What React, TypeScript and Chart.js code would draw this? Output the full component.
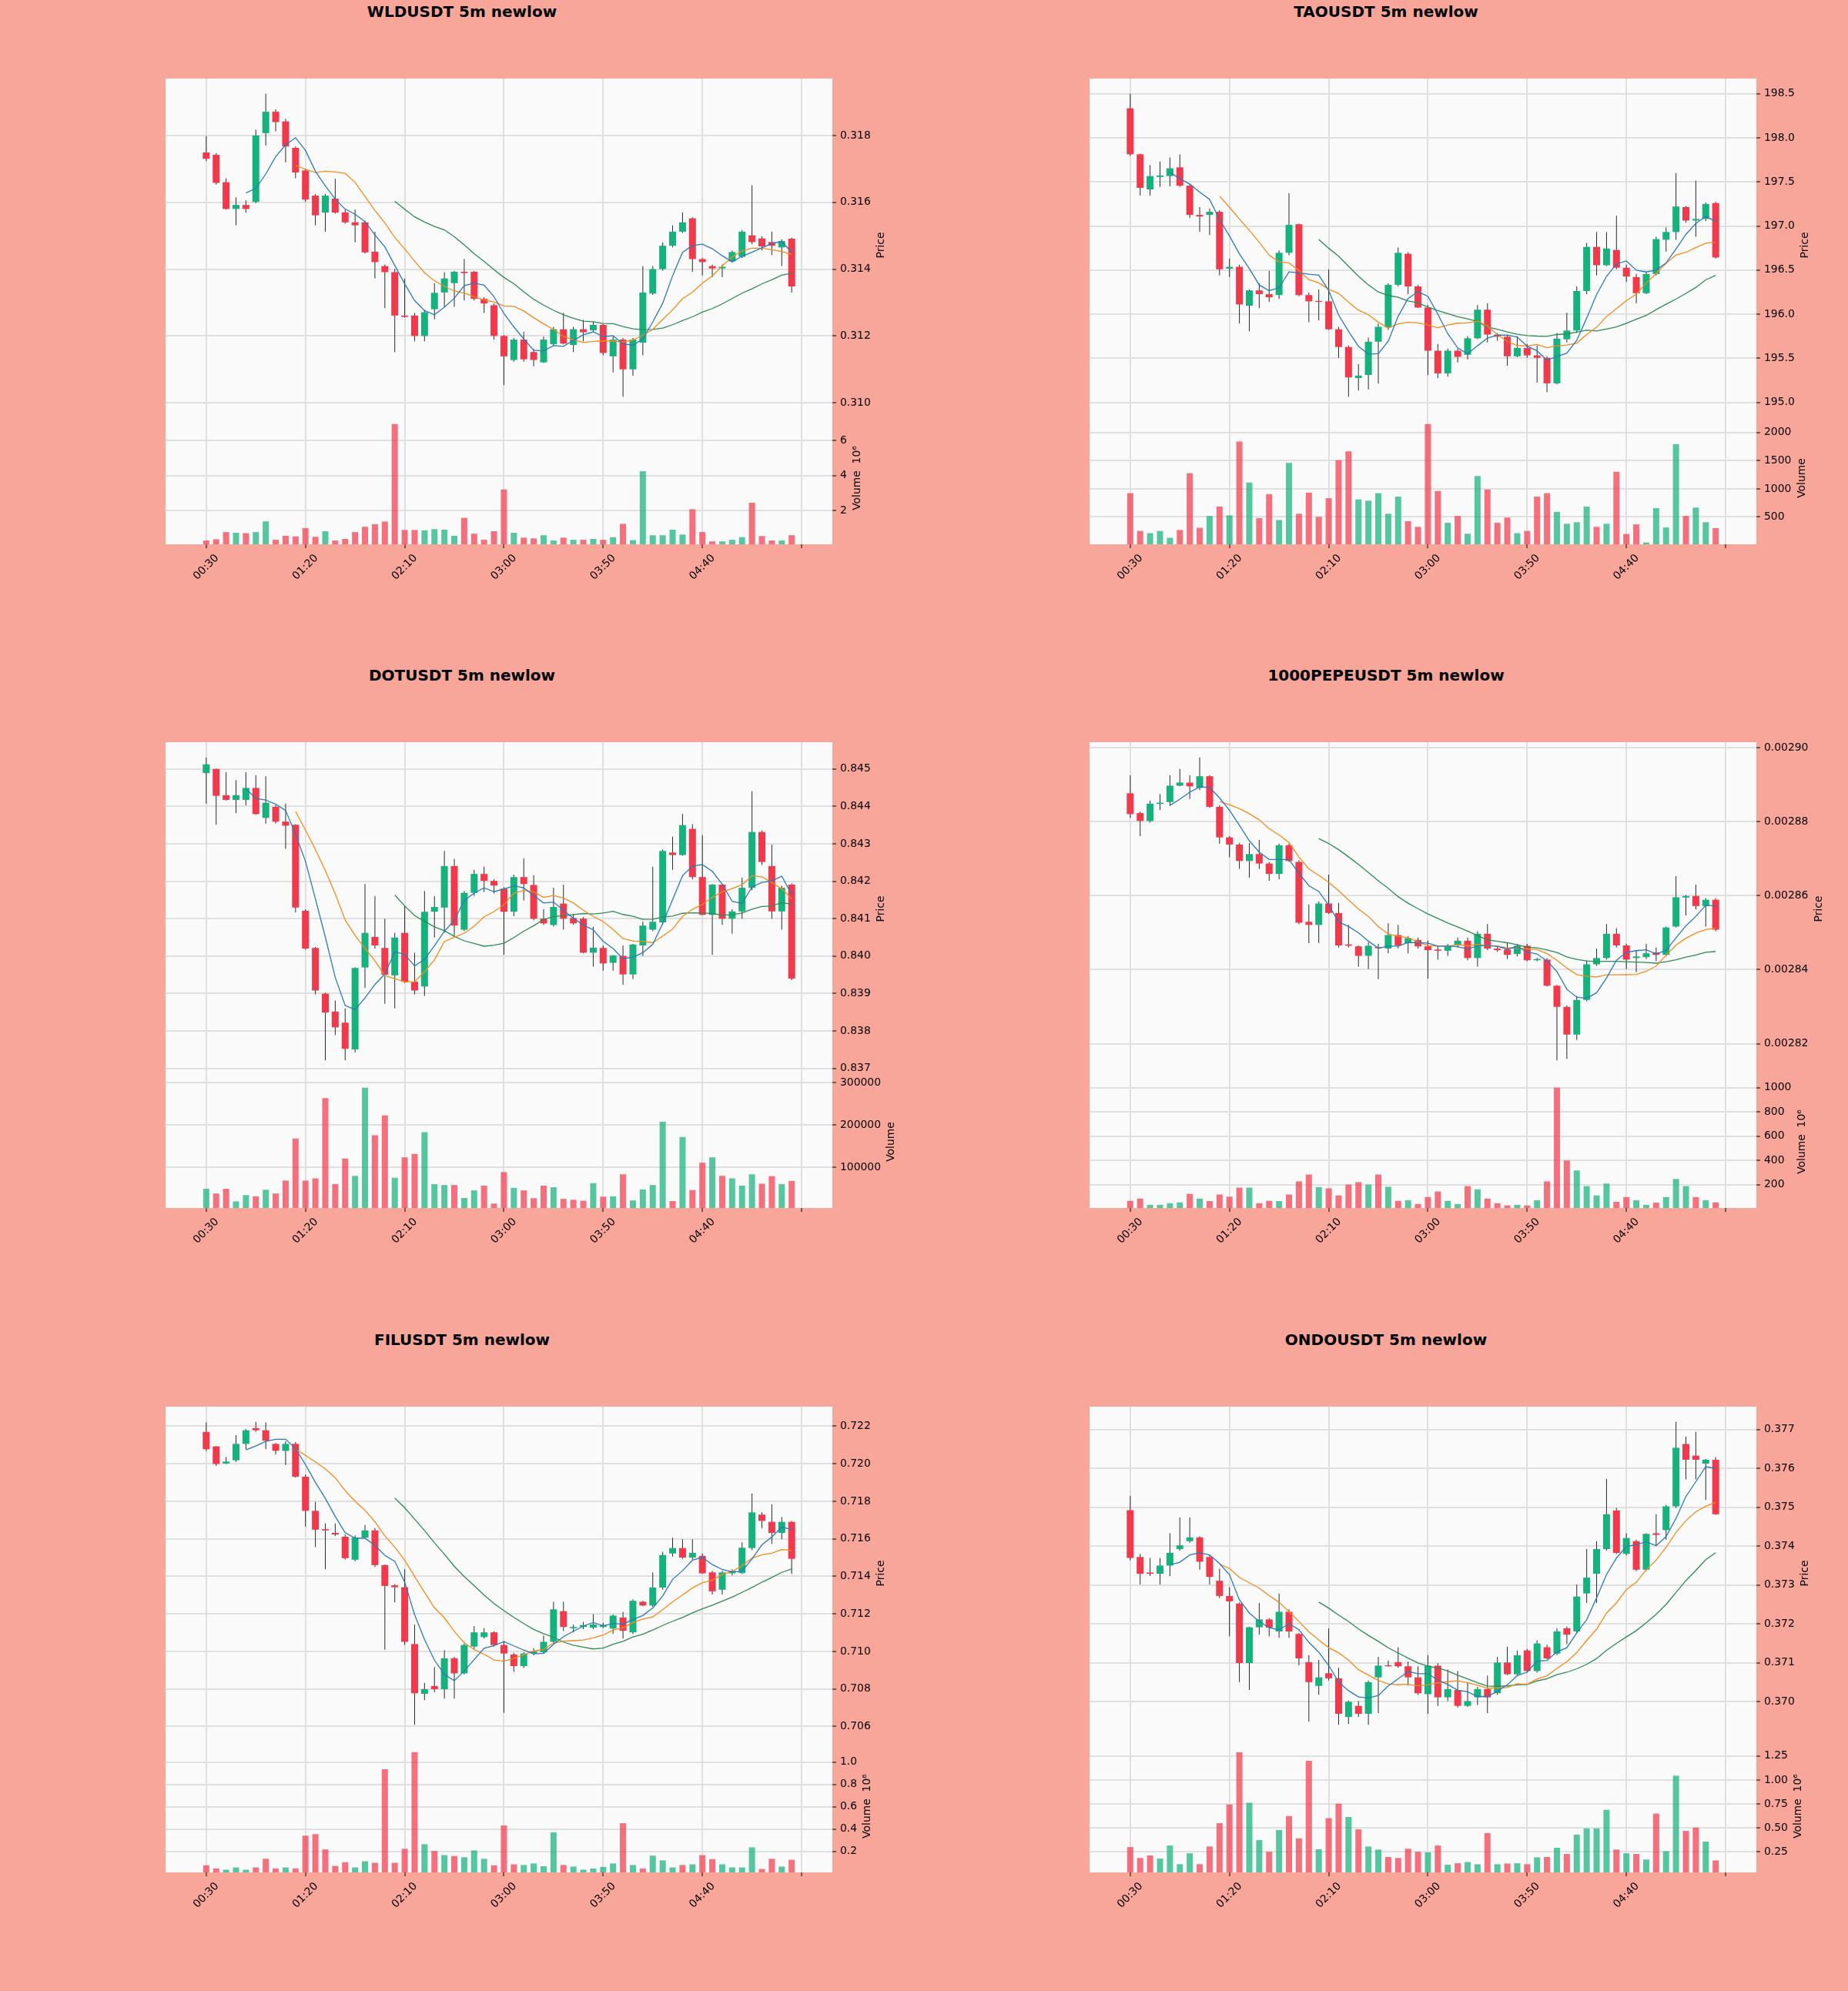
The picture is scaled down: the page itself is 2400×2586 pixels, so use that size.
import React, { useEffect, useRef } from "react";
import { Chart, registerables } from "chart.js";

Chart.register(...registerables);

// 60 five-minute candles, 00:30 .. 05:25 ; ticks every 10 candles
const xTickIdx = [0, 10, 20, 30, 40, 50, 60];
const xTickLabels = ["00:30", "01:20", "02:10", "03:00", "03:50", "04:40", ""];

// ---------- WLDUSDT  [open, high, low, close] ----------
const wldOhlc = [
  [0.31749, 0.31798, 0.31723, 0.3173], [0.31742, 0.31747, 0.31653, 0.31658], [0.3166, 0.31672, 0.31578, 0.3158],
  [0.3158, 0.31615, 0.31531, 0.31592], [0.31592, 0.31606, 0.31569, 0.3158], [0.31601, 0.31817, 0.31597, 0.318],
  [0.31807, 0.31925, 0.3177, 0.31871], [0.31871, 0.31878, 0.31812, 0.3184], [0.31842, 0.3185, 0.3172, 0.31767],
  [0.31763, 0.31767, 0.31672, 0.31689], [0.31695, 0.317, 0.31601, 0.31608], [0.3162, 0.31625, 0.31531, 0.31561],
  [0.31569, 0.31625, 0.31512, 0.3162], [0.31611, 0.3167, 0.31566, 0.31569], [0.3157, 0.31578, 0.31536, 0.3154],
  [0.3154, 0.31578, 0.3148, 0.31531], [0.3154, 0.31545, 0.31447, 0.3145], [0.31452, 0.31512, 0.31372, 0.31421],
  [0.31409, 0.31414, 0.31283, 0.31391], [0.31391, 0.314, 0.31152, 0.31261], [0.31261, 0.31372, 0.31255, 0.31257],
  [0.31261, 0.31269, 0.31184, 0.312], [0.312, 0.31278, 0.31184, 0.31271], [0.3128, 0.31358, 0.3125, 0.31329],
  [0.3133, 0.31391, 0.31287, 0.31372], [0.31358, 0.31395, 0.31287, 0.31392], [0.31392, 0.3143, 0.31306, 0.31388],
  [0.31392, 0.31395, 0.31306, 0.31311], [0.31311, 0.31316, 0.31269, 0.31297], [0.31292, 0.31297, 0.31189, 0.312],
  [0.312, 0.31203, 0.31053, 0.31139], [0.31128, 0.31194, 0.31123, 0.31189], [0.31189, 0.31212, 0.31123, 0.3113],
  [0.31152, 0.31161, 0.31109, 0.31128], [0.31121, 0.31198, 0.31119, 0.31189], [0.31175, 0.31227, 0.3117, 0.3122],
  [0.3122, 0.31269, 0.31175, 0.31177], [0.31173, 0.31227, 0.31152, 0.3122], [0.3122, 0.31248, 0.31184, 0.31211],
  [0.31217, 0.31242, 0.31212, 0.31233], [0.31233, 0.31236, 0.31142, 0.31149], [0.31139, 0.31198, 0.31091, 0.31189],
  [0.31189, 0.31194, 0.31018, 0.311], [0.311, 0.31194, 0.31081, 0.31189], [0.3118, 0.31409, 0.31142, 0.3133],
  [0.31327, 0.31409, 0.31323, 0.314], [0.314, 0.3148, 0.31395, 0.3147], [0.3147, 0.31531, 0.31465, 0.31512],
  [0.31512, 0.3157, 0.31508, 0.3154], [0.31552, 0.31555, 0.31392, 0.3143], [0.3143, 0.31433, 0.31381, 0.31421],
  [0.31409, 0.31414, 0.31376, 0.31402], [0.31402, 0.31414, 0.31376, 0.31407], [0.31423, 0.31456, 0.31419, 0.31451],
  [0.31437, 0.31517, 0.31433, 0.31512], [0.31501, 0.31651, 0.31475, 0.31481], [0.31492, 0.31498, 0.31456, 0.31468],
  [0.31481, 0.31512, 0.31442, 0.3147], [0.31465, 0.31489, 0.31409, 0.31484], [0.31491, 0.31494, 0.3133, 0.31348],
];
// volume in units of 10^6
const wldVolume = [
  0.29, 0.36, 0.77, 0.73, 0.71, 0.77, 1.38, 0.33, 0.56, 0.52, 1.0, 0.5, 0.82, 0.29, 0.38, 0.77, 1.07, 1.22, 1.37, 6.93,
  0.89, 0.89, 0.87, 0.94, 0.91, 0.56, 1.58, 0.68, 0.33, 0.82, 3.2, 0.73, 0.45, 0.41, 0.59, 0.29, 0.45, 0.33, 0.33, 0.38,
  0.33, 0.48, 1.24, 0.31, 4.24, 0.59, 0.59, 0.91, 0.63, 2.07, 0.77, 0.24, 0.24, 0.33, 0.48, 2.44, 0.54, 0.29, 0.29, 0.59,
];
const wldPriceTicks = [0.31, 0.312, 0.314, 0.316, 0.318];
const wldVolumeTicks = [2, 4, 6];

// ---------- TAOUSDT ----------
const taoOhlc = [
  [198.334, 198.5, 197.795, 197.813], [197.813, 197.82, 197.344, 197.432], [197.415, 197.69, 197.344, 197.566],
  [197.556, 197.732, 197.443, 197.573], [197.566, 197.778, 197.45, 197.654], [197.665, 197.813, 197.443, 197.457],
  [197.457, 197.478, 197.091, 197.126], [197.126, 197.214, 196.932, 197.108], [197.126, 197.196, 196.897, 197.161],
  [197.161, 197.179, 196.439, 196.509], [196.516, 196.632, 196.421, 196.537], [196.537, 196.562, 195.893, 196.111],
  [196.097, 196.28, 195.804, 196.27], [196.27, 196.351, 196.069, 196.227], [196.227, 196.492, 196.139, 196.192],
  [196.217, 196.721, 196.174, 196.696], [196.696, 197.372, 196.668, 197.013], [197.02, 197.027, 196.203, 196.217],
  [196.217, 196.245, 195.91, 196.146], [196.15, 196.28, 195.928, 196.139], [196.146, 196.509, 195.822, 195.829],
  [195.829, 195.857, 195.505, 195.628], [195.628, 195.646, 195.064, 195.283], [195.276, 195.434, 195.135, 195.304],
  [195.311, 195.734, 195.146, 195.688], [195.688, 195.893, 195.212, 195.857], [195.85, 196.351, 195.822, 196.333],
  [196.333, 196.756, 196.315, 196.696], [196.685, 196.703, 196.227, 196.315], [196.315, 196.333, 196.069, 196.076],
  [196.076, 196.104, 195.311, 195.586], [195.586, 195.663, 195.276, 195.329], [195.329, 195.611, 195.294, 195.586],
  [195.586, 195.611, 195.452, 195.516], [195.54, 195.752, 195.487, 195.727], [195.727, 196.104, 195.716, 196.051],
  [196.051, 196.122, 195.681, 195.769], [195.769, 195.787, 195.699, 195.745], [195.745, 195.759, 195.417, 195.523],
  [195.523, 195.752, 195.512, 195.618], [195.618, 195.663, 195.505, 195.533], [195.533, 195.646, 195.223, 195.505],
  [195.505, 195.523, 195.117, 195.216], [195.216, 195.787, 195.205, 195.723], [195.716, 196.016, 195.681, 195.815],
  [195.815, 196.315, 195.787, 196.263], [196.263, 196.809, 196.227, 196.763], [196.763, 196.932, 196.439, 196.555],
  [196.555, 196.932, 196.544, 196.745], [196.728, 197.115, 196.509, 196.527], [196.527, 196.562, 196.368, 196.428],
  [196.421, 196.456, 196.122, 196.238], [196.238, 196.474, 196.227, 196.456], [196.456, 196.879, 196.439, 196.851],
  [196.844, 196.985, 196.71, 196.932], [196.932, 197.601, 196.844, 197.221], [197.214, 197.224, 197.038, 197.062],
  [197.062, 197.513, 196.879, 197.08], [197.08, 197.267, 197.055, 197.249], [197.26, 197.274, 196.632, 196.643],
];
const taoVolume = [
  922, 252, 213, 252, 130, 269, 1276, 307, 518, 684, 529, 1841, 1110, 479, 905, 446, 1459, 556, 933, 501,
  833, 1509, 1664, 811, 789, 922, 556, 861, 424, 324, 2151, 961, 396, 518, 202, 1226, 988, 396, 490, 213,
  252, 861, 922, 590, 379, 407, 684, 324, 379, 1304, 197, 368, 47, 656, 313, 1791, 518, 667, 407, 302,
];
const taoPriceTicks = [195.0, 195.5, 196.0, 196.5, 197.0, 197.5, 198.0, 198.5];
const taoVolumeTicks = [500, 1000, 1500, 2000];

// ---------- DOTUSDT ----------
const dotOhlc = [
  [0.844891, 0.845312, 0.844074, 0.845126], [0.845, 0.84501, 0.843509, 0.844284], [0.844301, 0.844916, 0.84416, 0.844175],
  [0.844175, 0.844705, 0.843821, 0.844301], [0.844175, 0.844916, 0.844032, 0.844495], [0.844495, 0.844832, 0.843779, 0.843796],
  [0.843695, 0.844806, 0.843543, 0.844099], [0.843989, 0.844032, 0.843543, 0.843594], [0.843594, 0.844074, 0.842869, 0.843484],
  [0.843509, 0.843526, 0.841168, 0.841295], [0.841211, 0.841253, 0.840175, 0.8402], [0.840217, 0.840242, 0.838979, 0.83908],
  [0.838996, 0.839021, 0.837211, 0.838491], [0.838516, 0.838811, 0.837884, 0.838095], [0.838221, 0.8386, 0.837211, 0.837522],
  [0.837505, 0.839695, 0.837421, 0.83968], [0.839695, 0.841926, 0.839147, 0.840621], [0.840512, 0.841606, 0.8402, 0.840284],
  [0.840217, 0.841, 0.838726, 0.839501], [0.839484, 0.840621, 0.8386, 0.840495], [0.840621, 0.841337, 0.839274, 0.839316],
  [0.839316, 0.840091, 0.838979, 0.83908], [0.839189, 0.841741, 0.838937, 0.841185], [0.841185, 0.841606, 0.840495, 0.841312],
  [0.841295, 0.842811, 0.840621, 0.842406], [0.842406, 0.8426, 0.840495, 0.840815], [0.840705, 0.841741, 0.840663, 0.841691],
  [0.841691, 0.842305, 0.841606, 0.842196], [0.842196, 0.842389, 0.841716, 0.842011], [0.842011, 0.842053, 0.841674, 0.841884],
  [0.8418, 0.841842, 0.840032, 0.841185], [0.841185, 0.842179, 0.841067, 0.842112], [0.842112, 0.842617, 0.841488, 0.841926],
  [0.841901, 0.842162, 0.840958, 0.841], [0.841, 0.841253, 0.840832, 0.840874], [0.840832, 0.841825, 0.840789, 0.841312],
  [0.841404, 0.841909, 0.840705, 0.841], [0.841017, 0.841126, 0.840832, 0.840874], [0.841, 0.841042, 0.840074, 0.840091],
  [0.840091, 0.840789, 0.83972, 0.840225], [0.840217, 0.840284, 0.839611, 0.839804], [0.839821, 0.840032, 0.839611, 0.840015],
  [0.840006, 0.840284, 0.839232, 0.839509], [0.839509, 0.840326, 0.839383, 0.840309], [0.840284, 0.840916, 0.840006, 0.840815],
  [0.840705, 0.842389, 0.840663, 0.840916], [0.840899, 0.842853, 0.840832, 0.842811], [0.842768, 0.843189, 0.842305, 0.842701],
  [0.842701, 0.843796, 0.842684, 0.843501], [0.8434, 0.843526, 0.842053, 0.842112], [0.842112, 0.843232, 0.84109, 0.841101],
  [0.841101, 0.841926, 0.840032, 0.841909], [0.841909, 0.841926, 0.840832, 0.841], [0.841, 0.841253, 0.840596, 0.841194],
  [0.841194, 0.842095, 0.841, 0.841825], [0.841825, 0.844411, 0.841758, 0.843316], [0.843316, 0.843358, 0.842432, 0.842516],
  [0.842406, 0.842979, 0.841, 0.841194], [0.841194, 0.841884, 0.840705, 0.841825], [0.841909, 0.841943, 0.839358, 0.8394],
];
const dotVolume = [
  49600, 38500, 49600, 20000, 34800, 31900, 47400, 38500, 68900, 168100, 68900, 74100, 263000, 60700, 120700,
  80000, 287400, 175600, 222200, 75600, 123700, 131800, 183000, 60700, 58500, 58500, 28100, 45900, 57000, 14800,
  88900, 51800, 45900, 27400, 57000, 53300, 25900, 23700, 21500, 63000, 31100, 31900, 83700, 22200, 48100,
  58500, 207400, 20700, 171800, 46700, 111100, 123700, 80000, 74100, 57000, 83700, 61500, 79300, 60700, 68100,
];
const dotPriceTicks = [0.837, 0.838, 0.839, 0.84, 0.841, 0.842, 0.843, 0.844, 0.845];
const dotVolumeTicks = [100000, 200000, 300000];

// ---------- 1000PEPEUSDT ----------
const pepeOhlc = [
  [0.00288766, 0.00289251, 0.00288102, 0.00288204], [0.0028823, 0.00288272, 0.00287609, 0.00288017],
  [0.00288017, 0.0028857, 0.00287974, 0.00288485], [0.00288477, 0.0028874, 0.00288315, 0.00288511],
  [0.00288528, 0.00289251, 0.00288426, 0.0028897], [0.0028897, 0.00289421, 0.00288953, 0.00289055],
  [0.00289055, 0.00289251, 0.00288613, 0.00288953], [0.00288911, 0.00289736, 0.00288851, 0.00289226],
  [0.00289226, 0.00289251, 0.00288374, 0.002884], [0.002884, 0.00288443, 0.00287404, 0.00287574],
  [0.00287574, 0.00287609, 0.00287038, 0.00287379], [0.00287379, 0.00287421, 0.00286723, 0.00286936],
  [0.00286936, 0.00287421, 0.00286485, 0.00287123], [0.00287123, 0.00287506, 0.00286723, 0.00286868],
  [0.00286868, 0.00286911, 0.002864, 0.00286587], [0.00286587, 0.00287404, 0.00286443, 0.00287362],
  [0.00287362, 0.00287404, 0.00286911, 0.00286936], [0.00286911, 0.00286953, 0.00285226, 0.00285268],
  [0.00285294, 0.00285762, 0.00284715, 0.00285209], [0.00285209, 0.00285847, 0.00284723, 0.00285787],
  [0.00285787, 0.0028657, 0.00285506, 0.00285532], [0.00285532, 0.00285804, 0.00284596, 0.00284655],
  [0.00284681, 0.00285209, 0.00284596, 0.00284647], [0.0028463, 0.00284655, 0.00284085, 0.00284374],
  [0.00284374, 0.0028474, 0.00284017, 0.00284647], [0.00284613, 0.00284698, 0.00283745, 0.00284579],
  [0.0028457, 0.00285251, 0.00284443, 0.00284936], [0.00284936, 0.00285209, 0.0028457, 0.00284655],
  [0.00284715, 0.00284911, 0.00284443, 0.00284851], [0.002848, 0.00284868, 0.0028457, 0.0028463],
  [0.0028463, 0.00284783, 0.00283762, 0.00284528], [0.00284545, 0.00284655, 0.00284272, 0.00284511],
  [0.00284511, 0.00284698, 0.00284374, 0.00284655], [0.00284655, 0.00284868, 0.00284596, 0.00284783],
  [0.00284783, 0.00284868, 0.00284255, 0.00284315], [0.00284315, 0.00285038, 0.00284085, 0.0028497],
  [0.0028497, 0.00285234, 0.00284528, 0.0028457], [0.0028457, 0.00284655, 0.00284485, 0.00284528],
  [0.00284545, 0.0028474, 0.00284289, 0.002844], [0.00284426, 0.00284698, 0.00284357, 0.00284647],
  [0.00284647, 0.00284698, 0.0028423, 0.00284255], [0.00284255, 0.00284315, 0.0028423, 0.00284289],
  [0.00284272, 0.00284315, 0.00283549, 0.00283566], [0.00283566, 0.00283591, 0.00281549, 0.00282996],
  [0.00282996, 0.00283038, 0.00281591, 0.00282247], [0.00282247, 0.00283294, 0.00282102, 0.00283183],
  [0.00283183, 0.00284255, 0.00283149, 0.00284145], [0.00284145, 0.0028457, 0.00284102, 0.00284315],
  [0.00284315, 0.00285234, 0.00284272, 0.0028497], [0.0028497, 0.00285123, 0.00284596, 0.00284655],
  [0.00284655, 0.00284698, 0.00284017, 0.00284272], [0.00284315, 0.00284528, 0.00283932, 0.00284357],
  [0.0028434, 0.00284698, 0.00284289, 0.00284443], [0.00284468, 0.00284596, 0.0028423, 0.002844],
  [0.002844, 0.00285166, 0.00284357, 0.0028514], [0.00285166, 0.00286528, 0.0028514, 0.00285957],
  [0.00285949, 0.00286017, 0.00285464, 0.00285991], [0.00285991, 0.00286298, 0.00285634, 0.00285719],
  [0.00285719, 0.00285932, 0.00285166, 0.00285889], [0.00285889, 0.00285932, 0.00285038, 0.00285081],
];
// volume in units of 10^6
const pepeVolume = [
  68, 86, 35, 35, 48, 55, 125, 86, 66, 120, 102, 176, 176, 48, 68, 66, 120, 228, 284, 181,
  171, 112, 202, 222, 202, 284, 184, 68, 73, 42, 99, 145, 68, 42, 189, 163, 86, 48, 30, 35,
  30, 73, 228, 999, 400, 318, 189, 112, 210, 60, 99, 73, 35, 53, 99, 248, 189, 99, 73, 55,
];
const pepePriceTicks = [0.00282, 0.00284, 0.00286, 0.00288, 0.0029];
const pepeVolumeTicks = [200, 400, 600, 800, 1000];

// ---------- FILUSDT ----------
const filOhlc = [
  [0.721697, 0.722202, 0.720688, 0.720772], [0.720923, 0.72094, 0.719881, 0.719982], [0.720015, 0.720352, 0.719982, 0.720116],
  [0.720183, 0.721529, 0.720099, 0.721058], [0.721058, 0.721865, 0.720772, 0.721781], [0.721899, 0.722235, 0.721697, 0.721781],
  [0.721781, 0.722202, 0.720772, 0.721226], [0.721058, 0.721108, 0.720486, 0.720688], [0.720688, 0.721193, 0.719931, 0.721058],
  [0.721058, 0.721159, 0.719258, 0.719309], [0.719309, 0.719426, 0.716651, 0.717492], [0.717492, 0.717963, 0.715558, 0.716483],
  [0.716516, 0.716819, 0.71438, 0.716449], [0.716315, 0.716819, 0.716146, 0.71623], [0.716113, 0.71623, 0.714885, 0.714969],
  [0.714885, 0.71618, 0.714801, 0.716062], [0.716062, 0.716735, 0.716012, 0.716449], [0.716449, 0.716567, 0.714498, 0.714599],
  [0.714599, 0.714632, 0.710091, 0.713489], [0.713522, 0.71359, 0.712614, 0.713421], [0.713421, 0.71438, 0.710343, 0.710511],
  [0.710394, 0.711436, 0.706088, 0.70777], [0.707736, 0.708325, 0.7074, 0.707988], [0.708157, 0.709166, 0.70782, 0.707988],
  [0.707988, 0.710057, 0.707484, 0.709637], [0.709637, 0.709721, 0.707484, 0.70883], [0.70883, 0.710427, 0.708779, 0.710343],
  [0.710259, 0.711352, 0.710091, 0.711016], [0.710764, 0.711235, 0.71068, 0.711016], [0.711016, 0.711067, 0.710259, 0.710343],
  [0.710343, 0.710562, 0.706727, 0.709889], [0.709839, 0.709923, 0.708914, 0.709216], [0.709216, 0.709956, 0.709115, 0.709889],
  [0.709889, 0.710175, 0.709788, 0.710007], [0.709956, 0.710848, 0.709889, 0.710511], [0.710511, 0.712648, 0.710427, 0.712244],
  [0.712143, 0.712648, 0.7111, 0.711302], [0.711235, 0.711436, 0.711016, 0.711302], [0.711302, 0.711571, 0.711184, 0.711403],
  [0.711268, 0.711992, 0.711184, 0.711436], [0.711302, 0.711521, 0.711235, 0.711403], [0.711218, 0.711975, 0.710932, 0.711907],
  [0.711806, 0.712109, 0.71068, 0.7111], [0.711016, 0.712782, 0.710932, 0.712698], [0.712648, 0.712698, 0.712412, 0.712446],
  [0.712446, 0.714212, 0.712362, 0.713405], [0.713405, 0.715305, 0.713287, 0.715137], [0.715221, 0.716062, 0.715053, 0.715507],
  [0.715507, 0.715978, 0.714935, 0.715003], [0.715003, 0.715978, 0.714885, 0.715255], [0.715087, 0.715221, 0.714128, 0.714161],
  [0.714212, 0.714296, 0.713034, 0.713203], [0.713287, 0.714296, 0.713034, 0.714212], [0.714161, 0.71438, 0.714044, 0.714296],
  [0.714178, 0.71581, 0.714128, 0.715524], [0.715507, 0.718417, 0.715389, 0.717408], [0.71729, 0.717408, 0.716567, 0.716954],
  [0.716903, 0.717828, 0.715726, 0.716315], [0.716315, 0.717156, 0.715978, 0.716903], [0.716903, 0.716954, 0.714128, 0.714935],
];
// volume in units of 10^6
const filVolume = [
  0.074, 0.046, 0.035, 0.055, 0.035, 0.055, 0.133, 0.046, 0.055, 0.046, 0.34, 0.354, 0.217, 0.069, 0.102,
  0.055, 0.11, 0.097, 0.936, 0.097, 0.222, 1.09, 0.264, 0.203, 0.166, 0.158, 0.147, 0.208, 0.133, 0.074,
  0.432, 0.083, 0.077, 0.091, 0.066, 0.371, 0.077, 0.063, 0.035, 0.046, 0.06, 0.091, 0.452, 0.077, 0.046,
  0.161, 0.119, 0.055, 0.077, 0.083, 0.166, 0.13, 0.083, 0.055, 0.055, 0.236, 0.041, 0.133, 0.063, 0.124,
];
const filPriceTicks = [0.706, 0.708, 0.71, 0.712, 0.714, 0.716, 0.718, 0.72, 0.722];
const filVolumeTicks = [0.2, 0.4, 0.6, 0.8, 1.0];

// ---------- ONDOUSDT ----------
const ondoOhlc = [
  [0.374925, 0.375291, 0.37364, 0.373697], [0.373721, 0.373802, 0.373013, 0.37329], [0.373322, 0.373697, 0.373233, 0.37329],
  [0.37329, 0.373697, 0.373013, 0.373501], [0.373501, 0.374331, 0.373233, 0.373827], [0.373924, 0.374738, 0.373884, 0.374022],
  [0.374128, 0.374738, 0.374087, 0.374225], [0.374225, 0.37425, 0.373395, 0.373599], [0.373721, 0.373762, 0.373013, 0.373208],
  [0.373111, 0.37342, 0.372663, 0.37272], [0.37272, 0.372948, 0.371687, 0.372582], [0.372525, 0.372557, 0.370507, 0.370995],
  [0.370995, 0.371931, 0.370304, 0.371915], [0.371915, 0.372541, 0.371727, 0.372118], [0.372118, 0.372151, 0.371687, 0.371906],
  [0.371809, 0.372785, 0.371646, 0.372313], [0.372313, 0.372378, 0.371646, 0.371809], [0.371744, 0.371768, 0.370938, 0.371117],
  [0.37102, 0.371198, 0.36949, 0.370507], [0.370409, 0.371077, 0.370181, 0.370629], [0.370735, 0.37189, 0.370548, 0.370605],
  [0.370605, 0.370873, 0.369409, 0.369693], [0.369612, 0.370035, 0.369433, 0.370002], [0.369897, 0.370019, 0.369612, 0.369693],
  [0.369693, 0.370548, 0.369409, 0.370507], [0.370629, 0.371158, 0.36971, 0.37093], [0.370938, 0.37106, 0.370897, 0.370914],
  [0.37102, 0.371402, 0.370873, 0.370914], [0.370914, 0.371036, 0.370426, 0.370629], [0.370629, 0.370914, 0.370181, 0.370222],
  [0.370198, 0.371198, 0.369693, 0.37093], [0.37093, 0.370995, 0.369897, 0.370116], [0.370116, 0.370832, 0.370019, 0.370328],
  [0.370304, 0.370792, 0.369856, 0.369897], [0.369897, 0.370507, 0.369872, 0.370019], [0.370116, 0.370385, 0.369921, 0.370328],
  [0.370328, 0.37067, 0.36971, 0.370116], [0.370222, 0.371158, 0.370181, 0.371011], [0.371011, 0.371418, 0.370686, 0.37071],
  [0.37071, 0.371321, 0.37067, 0.371198], [0.371321, 0.371361, 0.370751, 0.370792], [0.370792, 0.371581, 0.370751, 0.3715],
  [0.371402, 0.371467, 0.371093, 0.371117], [0.371239, 0.37189, 0.371198, 0.371809], [0.37189, 0.371931, 0.371483, 0.371727],
  [0.371809, 0.373013, 0.371768, 0.372704], [0.372785, 0.373924, 0.372541, 0.373192], [0.37329, 0.374128, 0.372541, 0.373924],
  [0.373924, 0.375731, 0.373884, 0.374819], [0.374917, 0.374982, 0.373802, 0.373827], [0.373802, 0.374331, 0.373762, 0.374209],
  [0.374128, 0.374168, 0.373355, 0.373395], [0.373395, 0.374331, 0.373355, 0.374315], [0.374331, 0.374819, 0.374006, 0.37429],
  [0.374413, 0.375063, 0.374168, 0.375023], [0.375023, 0.377195, 0.374982, 0.376528], [0.376626, 0.376813, 0.375714, 0.376219],
  [0.376325, 0.376935, 0.375714, 0.376219], [0.376121, 0.376243, 0.375186, 0.376219], [0.376219, 0.376284, 0.374803, 0.374819],
];
// volume in units of 10^6
const ondoVolume = [
  0.299, 0.185, 0.211, 0.179, 0.315, 0.12, 0.234, 0.12, 0.305, 0.549, 0.744, 1.289, 0.763, 0.373, 0.25,
  0.477, 0.623, 0.39, 1.201, 0.276, 0.601, 0.753, 0.614, 0.484, 0.305, 0.273, 0.195, 0.185, 0.282, 0.25,
  0.244, 0.315, 0.114, 0.13, 0.143, 0.12, 0.445, 0.12, 0.127, 0.13, 0.12, 0.192, 0.195, 0.292, 0.227,
  0.429, 0.494, 0.494, 0.688, 0.273, 0.234, 0.227, 0.169, 0.649, 0.256, 1.045, 0.468, 0.503, 0.357, 0.159,
];
const ondoPriceTicks = [0.37, 0.371, 0.372, 0.373, 0.374, 0.375, 0.376, 0.377];
const ondoVolumeTicks = [0.25, 0.5, 0.75, 1.0, 1.25];

const PANELS = [
  { title: "WLDUSDT 5m newlow", ohlc: wldOhlc, volume: wldVolume, priceTicks: wldPriceTicks, priceDigits: 3, volumeTicks: wldVolumeTicks, volumeDigits: 0, volumeLabel: "Volume  10⁶" },
  { title: "TAOUSDT 5m newlow", ohlc: taoOhlc, volume: taoVolume, priceTicks: taoPriceTicks, priceDigits: 1, volumeTicks: taoVolumeTicks, volumeDigits: 0, volumeLabel: "Volume" },
  { title: "DOTUSDT 5m newlow", ohlc: dotOhlc, volume: dotVolume, priceTicks: dotPriceTicks, priceDigits: 3, volumeTicks: dotVolumeTicks, volumeDigits: 0, volumeLabel: "Volume" },
  { title: "1000PEPEUSDT 5m newlow", ohlc: pepeOhlc, volume: pepeVolume, priceTicks: pepePriceTicks, priceDigits: 5, volumeTicks: pepeVolumeTicks, volumeDigits: 0, volumeLabel: "Volume  10⁶" },
  { title: "FILUSDT 5m newlow", ohlc: filOhlc, volume: filVolume, priceTicks: filPriceTicks, priceDigits: 3, volumeTicks: filVolumeTicks, volumeDigits: 1, volumeLabel: "Volume  10⁶" },
  { title: "ONDOUSDT 5m newlow", ohlc: ondoOhlc, volume: ondoVolume, priceTicks: ondoPriceTicks, priceDigits: 3, volumeTicks: ondoVolumeTicks, volumeDigits: 2, volumeLabel: "Volume  10⁶" },
];

// layout (px)
const PLOT_W = 866;
const PRICE_H = 433;
const VOL_H = 172;
const AXIS_W = 140;
const PAD = 14;
const XAXIS_H = 80;
const FONT = "'DejaVu Sans', sans-serif";
const FS = 13.9;

const BG = "#f8a69a";
const AREA_BG = "#fafafa";
const GRID = "#e0e0e0";
const UP = "#16b27d";
const DOWN = "#f2394b";
const UP_VOL = "rgba(22,178,125,0.72)";
const DOWN_VOL = "rgba(242,57,75,0.72)";
const WICK = "#2b2b2b";
const MA_COLORS = ["#2a7ab8", "#f28c1c", "#2e8b57"];
const MA_PERIODS = [5, 10, 20];

function movingAverage(closes: number[], n: number) {
  const out: { x: number; y: number }[] = [];
  for (let i = n - 1; i < closes.length; i++) {
    let s = 0;
    for (let k = i - n + 1; k <= i; k++) s += closes[k];
    out.push({ x: i, y: s / n });
  }
  return out;
}

const areaBg = {
  id: "areaBg",
  beforeDraw(chart: any) {
    const { ctx, chartArea: a } = chart;
    ctx.save();
    ctx.fillStyle = AREA_BG;
    ctx.fillRect(a.left, a.top, a.right - a.left, a.bottom - a.top);
    ctx.restore();
  },
};

// matplotlib-style right y label, reading bottom to top
const yTitle = {
  id: "yTitle",
  afterDraw(chart: any, _args: any, opts: any) {
    const { ctx, chartArea: a } = chart;
    const scale = chart.scales.y;
    ctx.save();
    ctx.font = `${FS}px ${FONT}`;
    const maxW = Math.max(...scale.ticks.map((t: any) => ctx.measureText(String(t.label)).width));
    const x = a.right + 10 + maxW + 5.6 + 8;
    const y = (a.top + a.bottom) / 2;
    ctx.translate(x, y);
    ctx.rotate(-Math.PI / 2);
    ctx.fillStyle = "#000";
    ctx.textAlign = "center";
    ctx.textBaseline = "middle";
    ctx.fillText(opts.text, 0, 0);
    ctx.restore();
  },
};

// x labels rotated 45 degrees, centred under the tick
const xLabels = {
  id: "xLabels",
  afterDraw(chart: any) {
    const { ctx, chartArea: a } = chart;
    const xs = chart.scales.x;
    ctx.save();
    ctx.font = `${FS}px ${FONT}`;
    ctx.fillStyle = "#000";
    ctx.textAlign = "center";
    ctx.textBaseline = "middle";
    xTickIdx.forEach((v, i) => {
      const label = xTickLabels[i];
      if (!label) return;
      const w = ctx.measureText(label).width;
      const h = FS * 1.17;
      const cx = xs.getPixelForValue(v);
      const cy = a.bottom + 10 + ((w + h) * Math.SQRT1_2) / 2;
      ctx.save();
      ctx.translate(cx, cy);
      ctx.rotate(-Math.PI / 4);
      ctx.fillText(label, 0, 0);
      ctx.restore();
    });
    ctx.restore();
  },
};

function xScale(showTicks: boolean, height: number) {
  return {
    type: "linear",
    min: -4.1,
    max: 63.1,
    offset: false,
    grid: { color: GRID, lineWidth: 2, offset: false, drawTicks: showTicks, tickLength: 5, tickColor: "#000", tickWidth: 1 },
    border: { display: false },
    ticks: { display: false },
    afterBuildTicks: (s: any) => {
      s.ticks = xTickIdx.map((v) => ({ value: v }));
    },
    afterFit: (s: any) => {
      s.height = height;
      s.paddingLeft = 0;
      s.paddingRight = 0;
    },
  };
}

function yScale(min: number, max: number, ticks: number[], digits: number) {
  return {
    position: "right",
    min,
    max,
    grid: { color: GRID, lineWidth: 2, tickLength: 5, tickColor: "#000", tickWidth: 1 },
    border: { display: false },
    ticks: {
      padding: 5,
      color: "#000",
      font: { family: FONT, size: FS },
      callback: (v: any) => Number(v).toFixed(digits),
    },
    afterBuildTicks: (s: any) => {
      s.ticks = ticks.map((v) => ({ value: v }));
    },
    afterFit: (s: any) => {
      s.width = AXIS_W;
      s.paddingTop = 0;
      s.paddingBottom = 0;
    },
  };
}

function Panel({ spec, left, top, centerX }: any) {
  const priceRef = useRef<HTMLCanvasElement>(null);
  const volRef = useRef<HTMLCanvasElement>(null);

  useEffect(() => {
    if (!priceRef.current || !volRef.current) return;
    const ohlc: number[][] = spec.ohlc;
    const closes = ohlc.map((c) => c[3]);
    const isUp = ohlc.map((c) => c[3] >= c[0]);
    const lows = ohlc.map((c) => c[2]);
    const highs = ohlc.map((c) => c[1]);
    const lo = Math.min(...lows);
    const hi = Math.max(...highs);
    const pad = (hi - lo) * 0.05;

    const maSets = MA_PERIODS.map((n, k) => ({
      type: "line",
      data: movingAverage(closes, n),
      borderColor: MA_COLORS[k],
      borderWidth: 1.3,
      pointRadius: 0,
      tension: 0,
      order: 0,
    }));

    const priceChart = new Chart(priceRef.current, {
      type: "bar",
      data: {
        datasets: [
          ...maSets,
          {
            type: "bar",
            data: ohlc.map((c, i) => ({ x: i, y: [c[0], c[3]] })),
            backgroundColor: isUp.map((u) => (u ? UP : DOWN)),
            barThickness: 9,
            grouped: false,
            minBarLength: 1,
            inflateAmount: 0,
            order: 1,
          },
          {
            type: "bar",
            data: ohlc.map((c, i) => ({ x: i, y: [c[2], c[1]] })),
            backgroundColor: WICK,
            barThickness: 1,
            grouped: false,
            inflateAmount: 0,
            order: 2,
          },
        ],
      } as any,
      options: {
        animation: false,
        responsive: false,
        devicePixelRatio: 1,
        layout: { autoPadding: false, padding: { top: PAD, bottom: PAD, left: 0, right: 0 } },
        plugins: { legend: { display: false }, tooltip: { enabled: false }, yTitle: { text: "Price" } } as any,
        scales: {
          x: xScale(false, 0),
          y: yScale(lo - pad, hi + pad, spec.priceTicks, spec.priceDigits),
        } as any,
      },
      plugins: [areaBg, yTitle],
    });

    const vol: number[] = spec.volume;
    const volChart = new Chart(volRef.current, {
      type: "bar",
      data: {
        datasets: [
          {
            data: vol.map((v, i) => ({ x: i, y: v })),
            backgroundColor: isUp.map((u) => (u ? UP_VOL : DOWN_VOL)),
            barThickness: 8,
            grouped: false,
            inflateAmount: 0,
            clip: 0,
          },
        ],
      } as any,
      options: {
        animation: false,
        responsive: false,
        devicePixelRatio: 1,
        layout: { autoPadding: false, padding: { top: PAD, bottom: 0, left: 0, right: 0 } },
        plugins: { legend: { display: false }, tooltip: { enabled: false }, yTitle: { text: spec.volumeLabel } } as any,
        scales: {
          x: xScale(true, XAXIS_H),
          y: yScale(0.3 * Math.min(...vol), 1.1 * Math.max(...vol), spec.volumeTicks, spec.volumeDigits),
        } as any,
      },
      plugins: [areaBg, yTitle, xLabels],
    });

    return () => {
      priceChart.destroy();
      volChart.destroy();
    };
  }, [spec]);

  const cw = PLOT_W + AXIS_W;
  return (
    <>
      <div
        style={{
          position: "absolute",
          left: centerX - 500,
          width: 1000,
          top: top - 87 - 13,
          height: 26,
          lineHeight: "26px",
          textAlign: "center",
          fontFamily: FONT,
          fontWeight: "bold",
          fontSize: 20,
          color: "#000",
        }}
      >
        {spec.title}
      </div>
      <canvas
        ref={priceRef}
        width={cw}
        height={PRICE_H + 2 * PAD}
        style={{ position: "absolute", left, top: top - PAD, width: cw, height: PRICE_H + 2 * PAD }}
      />
      <canvas
        ref={volRef}
        width={cw}
        height={PAD + VOL_H + XAXIS_H}
        style={{ position: "absolute", left, top: top + PRICE_H - PAD, width: cw, height: PAD + VOL_H + XAXIS_H }}
      />
    </>
  );
}

export default function App() {
  return (
    <div
      style={{
        position: "absolute",
        left: 0,
        top: 0,
        width: 2400,
        height: 2586,
        overflow: "hidden",
        background: BG,
      }}
    >
      {PANELS.map((spec, i) => {
        const col = i % 2;
        const row = Math.floor(i / 2);
        return (
          <Panel
            key={spec.title}
            spec={spec}
            left={215 + 1200 * col}
            top={102 + 862.3 * row}
            centerX={600 + 1200 * col}
          />
        );
      })}
    </div>
  );
}
